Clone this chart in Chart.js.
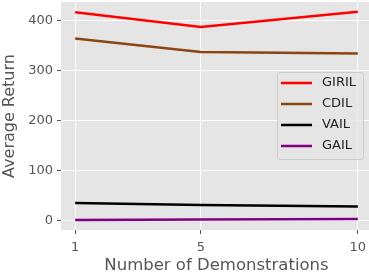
<!DOCTYPE html>
<html>
<head>
<meta charset="utf-8">
<script src="https://cdn.jsdelivr.net/npm/chart.js@4/dist/chart.umd.min.js"></script>
<style>
  html, body { margin: 0; padding: 0; background: #fff; overflow: hidden; }
  #wrap { width: 372px; height: 278px; }
</style>
</head>
<body>
<div id="wrap"><canvas id="line-chart"></canvas></div>
<script>
const demos = [1, 5, 10];
const giril = [416, 387, 417];
const cdil = [364, 337, 334];
const vail = [35, 31, 28];
const gail = [1.5, 2.5, 3.5];
const yTicks = [0, 100, 200, 300, 400];

const toPts = (vals) => vals.map((v, i) => ({ x: demos[i], y: v }));

const series = [
  { label: "GIRIL", data: giril, color: "#ff0000" },
  { label: "CDIL", data: cdil, color: "#8b4513" },
  { label: "VAIL", data: vail, color: "#000000" },
  { label: "GAIL", data: gail, color: "#800080" },
];

// legend drawn inside the plot, matplotlib style
const innerLegend = {
  id: "innerLegend",
  afterDraw(chart) {
    const ctx = chart.ctx;
    const x0 = 277, y0 = 72, w = 86, h = 87;
    ctx.save();
    ctx.fillStyle = "rgba(229,229,229,0.8)";
    ctx.strokeStyle = "#cccccc";
    ctx.lineWidth = 1;
    ctx.beginPath();
    ctx.roundRect(x0 + 0.5, y0 + 0.5, w, h, 3);
    ctx.fill();
    ctx.stroke();
    ctx.font = "13px 'DejaVu Sans'";
    ctx.textBaseline = "middle";
    chart.data.datasets.forEach((ds, i) => {
      const y = y0 + 11 + i * 21;
      ctx.strokeStyle = ds.borderColor;
      ctx.lineWidth = 2.5;
      ctx.beginPath();
      ctx.moveTo(281, y);
      ctx.lineTo(312, y);
      ctx.stroke();
      ctx.fillStyle = "#222";
      ctx.fillText(ds.label, 322, y);
    });
    ctx.restore();
  },
};

const plotBg = {
  id: "plotBg",
  beforeDraw(chart) {
    const a = chart.chartArea;
    chart.ctx.save();
    chart.ctx.fillStyle = "#e5e5e5";
    chart.ctx.fillRect(a.left, a.top, a.right - a.left, a.bottom - a.top);
    chart.ctx.restore();
  },
};

const font = { family: "'DejaVu Sans'", size: 13 };

const config = {
  type: "line",
  data: {
    datasets: series.map((s) => ({
      label: s.label,
      data: toPts(s.data),
      borderColor: s.color,
      backgroundColor: s.color,
      borderWidth: 2.5,
      pointRadius: 0,
      tension: 0,
    })),
  },
  options: {
    responsive: false,
    animation: false,
    layout: { padding: { top: 2, right: 0, left: 0, bottom: 2 } },
    plugins: { legend: { display: false }, tooltip: { enabled: false } },
    scales: {
      x: {
        type: "linear",
        min: 0.55,
        max: 10.45,
        afterBuildTicks: (ax) => { ax.ticks = demos.map((v) => ({ value: v })); },
        afterFit: (ax) => { ax.height = 46; ax.paddingLeft = 0; ax.paddingRight = 0; },
        grid: { color: "#ffffff", lineWidth: 1, tickColor: "#555", tickLength: 4 },
        border: { display: false },
        ticks: { color: "#555", font, padding: 6, maxRotation: 0 },
        title: { display: true, text: "Number of Demonstrations", color: "#555",
                 font: { family: "'DejaVu Sans'", size: 16.5 }, padding: { top: 0, bottom: 0 } },
      },
      y: {
        min: -18.7,
        max: 436.7,
        afterBuildTicks: (ax) => { ax.ticks = yTicks.map((v) => ({ value: v })); },
        afterFit: (ax) => { ax.width = 61; ax.paddingTop = 0; ax.paddingBottom = 0; },
        grid: { color: "#ffffff", lineWidth: 1, tickColor: "#555", tickLength: 4 },
        border: { display: false },
        ticks: { color: "#555", font, padding: 4 },
        title: { display: true, text: "Average Return", color: "#555",
                 font: { family: "'DejaVu Sans'", size: 16 }, padding: { top: 0, bottom: 0 } },
      },
    },
  },
  plugins: [plotBg, innerLegend],
};

const canvas = document.getElementById("line-chart");
canvas.width = 372;
canvas.height = 278;
window.myLine = new Chart(canvas.getContext("2d"), config);
</script>
</body>
</html>
